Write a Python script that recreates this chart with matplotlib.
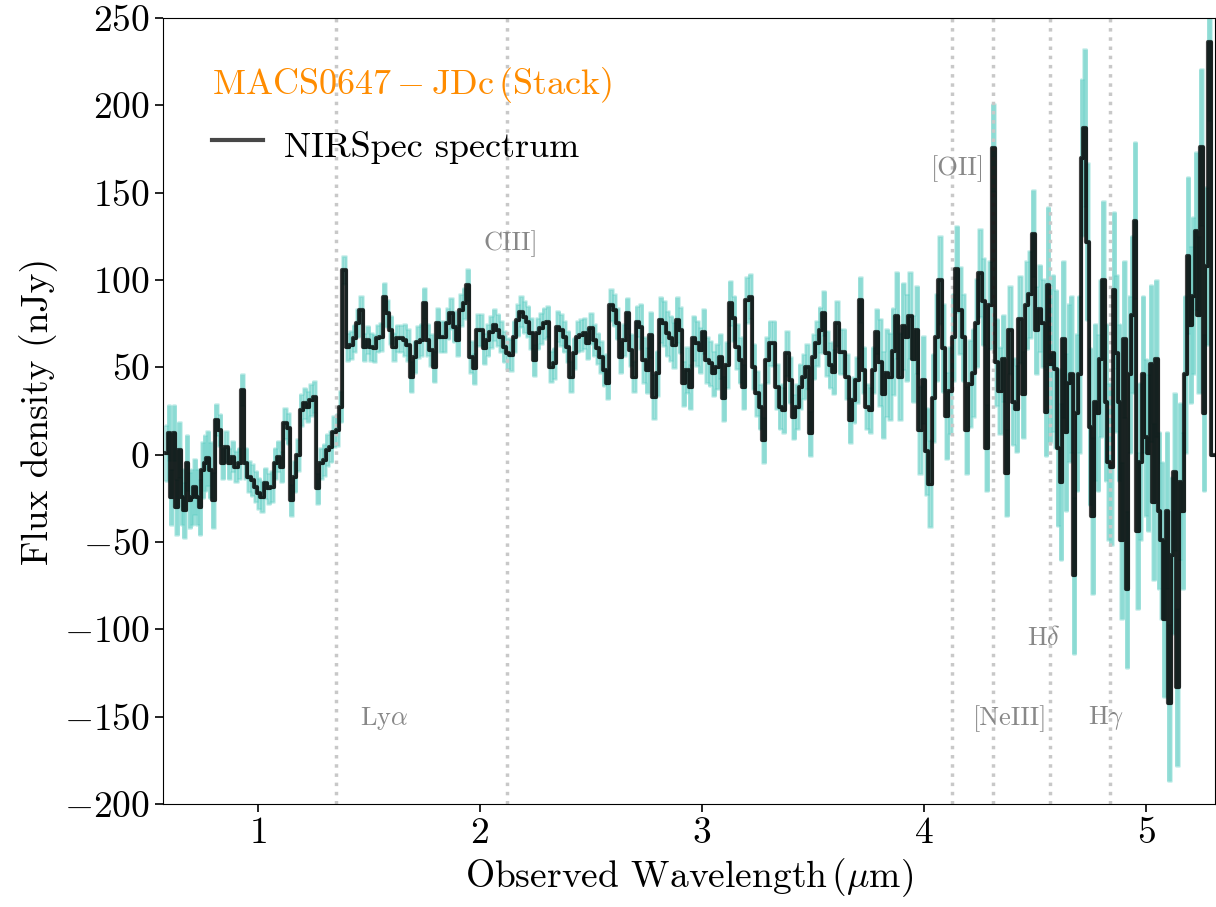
import numpy as np
import matplotlib.pyplot as plt

plt.rcParams['font.family'] = 'cmr10'
plt.rcParams['mathtext.fontset'] = 'cm'
plt.rcParams['axes.formatter.use_mathtext'] = True

# spectrum, in pieces (wavelength range in um + flux in nJy)
seg_range = [(0.588, 0.798), (0.813, 1.373), (1.390, 1.644), (1.661, 2.710),
             (2.724, 3.788), (3.803, 4.552), (4.557, 5.285), (5.300, 5.300)]
seg_err = [16, 9, 8, 9, 13, 25, 45, 0]

flux_a1 = [0.7, 12.2, -24.1, 12.2, -29.8, 2.6, -24.1, -31.7, -5, -26, -24.1, -18.4,
           -24.1, -29.8, -8.8, -5, -2.2, -8.8, -26]
flux_a2 = [19.8, 14.1, -5, 4.5, -5, -1.2, -6.9, -5, 37, -5, -12.6, -14.6, -18.4, -22.2,
           -24.1, -16.5, -19.3, -18.4, -5, -1.2, -6.9, 17.9, 15, -26, -12.6, -0.2, 25.5,
           29.3, 27.4, 31.2, 33.1, -19.3, -5, -3.1, 2.6, 4.5, 13.1, 14.1, 27.4]
flux_a3 = [105.7, 61.8, 62.7, 66.5, 75.1, 82.8, 61.8, 65.6, 61.8, 60.8, 66.5, 67.5,
           90.4, 80.8, 71.3, 61.8, 66.5, 66.5]
flux_b = [65.6, 62.7, 44.6, 56, 64.6, 65.6, 86.6, 65.6, 59.9, 50.3, 75.1, 67.5, 67.5,
          75.1, 80.8, 73.2, 65.6, 82.8, 86.6, 97.1, 56, 49.4, 71.3, 71.3, 60.8, 65.6,
          70.3, 74.2, 71.3, 67.5, 61.8, 58, 57, 67.5, 77, 81.8, 78.9, 76.1, 69.4, 54.1,
          69.4, 72.3, 75.1, 76.1, 50.3, 52.2, 73.2, 71.3, 67.5, 61.8, 44.6, 58, 67.5,
          68.4, 69.4, 63.7, 72.3, 65.6, 60.8, 56, 48.4, 40.8, 85.6, 82.8, 75.1, 56,
          65.6, 80.8, 59.9, 44.6, 76.1]
flux_c = [73.2, 54.2, 48.4, 68.5, 33.2, 46.5, 77, 75.1, 69.4, 66.6, 62.7, 77, 71.3,
          40.8, 48.4, 38.9, 66.6, 63.7, 59.9, 70.4, 54.2, 52.3, 46.5, 50.3, 56.1, 32.2,
          51.3, 86.6, 78, 61.8, 54.2, 38.9, 88.5, 90.4, 50.3, 35.1, 27.5, 8.4, 54.2,
          63.7, 63.7, 38.9, 27.5, 25.6, 58, 42.7, 21.7, 27.5, 38.9, 44.6, 50.3, 12.2,
          56.1, 63.7, 71.3, 80.9, 58, 51.3, 47.5, 75.1, 59, 59, 44.6, 19.8, 31.3, 42.7,
          88.5, 48.4, 27.5, 25.6, 48.4, 70.4]
flux_d = [52.9, 34.5, 46.8, 44.7, 59.1, 79.5, 44.7, 73.4, 67.2, 79.5, 55, 71.3, 14.1,
          42.7, 1.8, -16.6, 32.5, 67.2, 99.9, 61.1, 22.3, 36.6, 67.2, 106.1, 82.6, 67.2,
          14.1, 40.7, 46.8, 75.4, 104, 87.7, 3.9, 85.6, 175.6, 52.9, 36.6, 55, -10.4,
          71.3, 30.4, 26.3, 77.5, 34.5, 85.6, 91.8, 126.5, 71.3, 83.6, 75.4, 24.3]
flux_e = [97, 52, 58, 49, 4, -15.5, 66, 13, 41, 46, -69, 24, 46, 170, 187, 122, 16,
          -35, 30, 24, 55, 100, 30, -4, -7, 94, 58, 30, -49, 66, -77, 46, 80, 134,
          -43.5, -4, 46, 10, 1, 52, -27, 55, -32, -49, -94, -32, -142, -57.6, -10,
          -133, -15.5, -32, 46, 114, 74.5, 91, 128, 80, 176, 24, 108, 236]
flux_tail = [0.0]
seg_flux = [flux_a1, flux_a2, flux_a3, flux_b, flux_c, flux_d, flux_e, flux_tail]

# emission lines (observed wavelength, label, label x, label y)
line_wave = [1.351, 2.124, 4.128, 4.312, 4.568, 4.838]
line_names = [r'Ly$\alpha$', 'CIII]', '[OII]', '[NeIII]', r'H$\delta$', r'H$\gamma$']
label_x = [1.571, 2.142, 4.155, 4.389, 4.542, 4.820]
label_y = [-151, 121, 164, -151, -105, -151]

wave = np.concatenate([np.linspace(lo, hi, len(f)) for (lo, hi), f in zip(seg_range, seg_flux)])
flux = np.concatenate([np.array(f, dtype=float) for f in seg_flux])
err = np.concatenate([np.full(len(f), e, dtype=float) for f, e in zip(seg_flux, seg_err)])

fig = plt.figure(figsize=(12.16, 9.07), dpi=100)
ax = fig.add_axes([0.134, 0.1136, 0.865, 0.8666])

teal = '#4cc8bd'
ax.fill_between(wave, flux - err, flux + err, step='mid', color=teal, alpha=0.16, lw=0, zorder=1)
ax.step(wave, flux + err, where='mid', color=teal, alpha=0.28, lw=2, zorder=1)
ax.step(wave, flux - err, where='mid', color=teal, alpha=0.28, lw=2, zorder=1)
ax.errorbar(wave, flux, yerr=err, fmt='none', ecolor=teal, elinewidth=3.5, alpha=0.42, zorder=2)

for w, name, lx, ly in zip(line_wave, line_names, label_x, label_y):
    ax.axvline(w, color='#c8c8c8', ls=':', lw=2.5, zorder=2.5)
    ax.text(lx, ly, name, color='#888888', fontsize=19, ha='center', va='center')

ax.step(wave, flux, where='mid', color='k', alpha=0.72, lw=3.0, zorder=3, label='NIRSpec spectrum')
ax.step(wave, flux, where='mid', color='k', alpha=0.45, lw=2.2, zorder=3)

ax.set_xlim(0.573, 5.31)
ax.set_ylim(-200, 250)
ax.set_xticks([1, 2, 3, 4, 5])
ax.set_yticks(np.arange(-200, 251, 50))
ax.tick_params(labelsize=27, length=6, width=1.2)
ax.set_xlabel(r'Observed Wavelength$\,(\mu\mathrm{m})$', fontsize=27)
ax.set_ylabel('Flux density (nJy)', fontsize=27)

leg = ax.legend(loc='upper left', bbox_to_anchor=(0.016, 0.982), frameon=False, fontsize=26,
                title=r'$\mathrm{MACS0647-JDc\,(Stack)}$', title_fontsize=26,
                alignment='left', handlelength=1.4, handletextpad=0.6, handleheight=1.5)
leg.get_title().set_color('darkorange')

fig.savefig('out.png', dpi=100)
